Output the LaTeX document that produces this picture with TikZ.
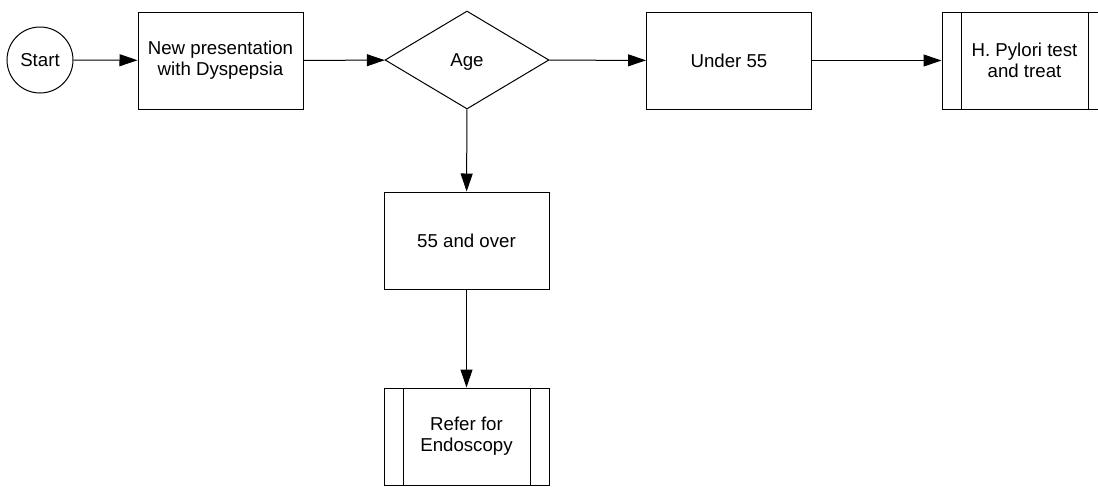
\documentclass[tikz,border=0pt]{standalone}
\usepackage{fontspec}
\setmainfont{Liberation Sans}
\usetikzlibrary{shapes.geometric}
\usetikzlibrary{arrows.meta}
\tikzstyle{flow}=[draw=black,line width=0.75pt,align=center,inner sep=0pt,font=\fontsize{14}{16}\selectfont]
\tikzstyle{terminal}=[flow,circle,minimum size=49.5pt]
\tikzstyle{process}=[flow,rectangle,minimum width=123.75pt,minimum height=72.75pt]
\tikzstyle{decision}=[flow,diamond,minimum width=123pt,minimum height=73.5pt,text depth=0pt]
\tikzstyle{subprocess}=[process,path picture={
    \draw[line width=0.75pt] ([xshift=14.25pt]path picture bounding box.north west) -- ([xshift=14.25pt]path picture bounding box.south west)
      ([xshift=-14.25pt]path picture bounding box.north east) -- ([xshift=-14.25pt]path picture bounding box.south east);}]
\tikzstyle{link}=[line width=0.75pt,-{Triangle[length=13.5pt,width=9pt]}]

\begin{document}
\begin{tikzpicture}[x=0.75pt,y=-0.75pt]
        \useasboundingbox (0,0) rectangle (1098,486);
        \node[terminal] (start) at (40,60) {Start};
        \node[process] (new) at (220.5,60.5) {New presentation\\with Dyspepsia};
        \node[decision] (age) at (467,60) {Age};
        \node[process] (under) at (729,60.5) {Under 55};
        \node[subprocess] (pylori) at (1024.5,60.5) {H. Pylori test\\and treat};
        \node[process] (over) at (466.5,240.5) {55 and over};
        \node[subprocess] (refer) at (466.5,436.5) {Refer for\\Endoscopy};
        \draw[link] (start) -- (new);
        \draw[link] (new) -- (age);
        \draw[link] (age) -- (under);
        \draw[link] (under) -- (pylori);
        \draw[link] (age) -- (over);
        \draw[link] (over) -- (refer);
      \end{tikzpicture}
\end{document}
